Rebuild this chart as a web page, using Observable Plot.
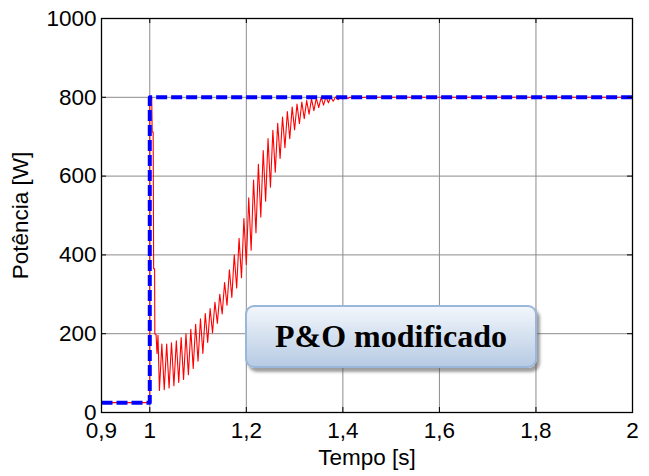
<!DOCTYPE html>
<html><head><meta charset="utf-8">
<script src="https://cdn.jsdelivr.net/npm/d3@7"></script>
<script src="https://cdn.jsdelivr.net/npm/@observablehq/plot@0.6"></script>
<style>
body{margin:0;background:#fff;}
#wrap{position:relative;width:649px;height:476px;overflow:hidden;}
#box{position:absolute;left:245px;top:305px;width:288px;height:59px;border:2px solid #9ab6d9;border-radius:9px;
background:linear-gradient(#f2f6fb,#b7cbe4);box-shadow:3px 4px 3px rgba(80,80,80,0.55);
display:flex;align-items:center;justify-content:center;font:bold 32px "Liberation Serif","Times New Roman",serif;color:#000;}
</style></head><body><div id="wrap"><div id="box">P&amp;O modificado</div></div>
<script>
const xTicks = [0.9, 1, 1.2, 1.4, 1.6, 1.8, 2];
const yTicks = [0, 200, 400, 600, 800, 1000];

// reference (blue dashed)
const refT = [0.9, 1.0, 1.0, 2.0];
const refP = [25, 25, 800, 800];

// measured power (red): start transient
const startT = [0.9, 1.0, 1.0, 1.004, 1.005, 1.007, 1.008, 1.010, 1.0105, 1.013, 1.015, 1.017];
const startP = [25, 25, 800, 800, 712, 712, 365, 365, 200, 198, 150, 196];
// oscillation troughs
const troughT = [1.02,1.03,1.04,1.05,1.06,1.07,1.08,1.09,1.10,1.11,1.12,1.13,1.14,1.15,1.16,1.17,1.18,1.19,1.20,1.21,1.22,1.23,1.24,1.25,1.26,1.27,1.28,1.29,1.30,1.31,1.32,1.33,1.34,1.35,1.36,1.37,1.38,1.39,1.40,1.41,1.42,1.43,1.44];
const troughP = [56,58,62,68,76,84,96,112,130,150,178,202,226,250,272,292,316,342,376,412,456,496,536,572,610,645,672,695,717,733,746,757,766,774,780,786,790,794,796,797,798,799,799];
// oscillation peaks
const peakT = [1.025,1.035,1.045,1.055,1.065,1.075,1.085,1.095,1.105,1.115,1.125,1.135,1.145,1.155,1.165,1.175,1.185,1.195,1.205,1.215,1.225,1.235,1.245,1.255,1.265,1.275,1.285,1.295,1.305,1.315,1.325,1.335,1.345,1.355,1.365,1.375,1.385,1.395,1.405,1.415,1.425,1.435,1.445];
const peakP = [174,174,177,182,190,200,211,224,238,251,264,280,300,330,362,400,442,492,545,590,630,665,695,716,734,750,764,775,783,788,792,796,798,800,801,801,801,800,800,800,800,800,800];
// steady state
const tailT = [1.45, 2.0];
const tailP = [800, 800];

const ref = refT.map((t, i) => ({t, p: refP[i]}));
const meas = [];
startT.forEach((t, i) => meas.push({t, p: startP[i]}));
troughT.forEach((t, i) => { meas.push({t, p: troughP[i]}); meas.push({t: peakT[i], p: peakP[i]}); });
tailT.forEach((t, i) => meas.push({t, p: tailP[i]}));

const W = 649, H = 476, mL = 101, mR = 17, mT = 18, mB = 64;
const pw = W - mL - mR, ph = H - mT - mB, tk = 5;

const svg = Plot.plot({
  width: W, height: H,
  marginLeft: mL, marginRight: mR, marginTop: mT, marginBottom: mB,
  style: {fontFamily: "'Liberation Sans', Arial, sans-serif", fontSize: "22.5px", background: "#fff", color: "#000", overflow: "visible"},
  x: {domain: [0.9, 2]},
  y: {domain: [0, 1000]},
  marks: [
    Plot.gridX(xTicks, {stroke: "#8c8c8c", strokeOpacity: 1, strokeWidth: 1}),
    Plot.gridY(yTicks, {stroke: "#8c8c8c", strokeOpacity: 1, strokeWidth: 1}),
    Plot.line(meas, {x: "t", y: "p", stroke: "#ff0000", strokeWidth: 1.1}),
    Plot.line(ref, {x: "t", y: "p", stroke: "#0000ff", strokeWidth: 4, strokeDasharray: "11,4", strokeLinecap: "butt"}),
    Plot.tickX(xTicks, {x: d => d, insetTop: ph - tk, stroke: "#000"}),
    Plot.tickX(xTicks, {x: d => d, insetBottom: ph - tk, stroke: "#000"}),
    Plot.tickY(yTicks, {y: d => d, insetRight: pw - tk, stroke: "#000"}),
    Plot.tickY(yTicks, {y: d => d, insetLeft: pw - tk, stroke: "#000"}),
    Plot.frame({stroke: "#000", strokeWidth: 1.3}),
    Plot.axisX(xTicks, {tickSize: 0, tickPadding: 10, tickFormat: d => String(d).replace(".", ","),
      label: "Tempo [s]", labelAnchor: "center", labelArrow: "none", labelOffset: 52}),
    Plot.axisY(yTicks, {tickSize: 0, tickPadding: 5, tickFormat: d => String(d),
      label: "Potência [W]", labelAnchor: "center", labelArrow: "none", labelOffset: 89})
  ]
});
d3.select(svg).append("text").attr("x", -7).attr("y", 419).attr("fill", "#000").text("4");
document.getElementById("wrap").prepend(svg);
</script>
</body></html>
